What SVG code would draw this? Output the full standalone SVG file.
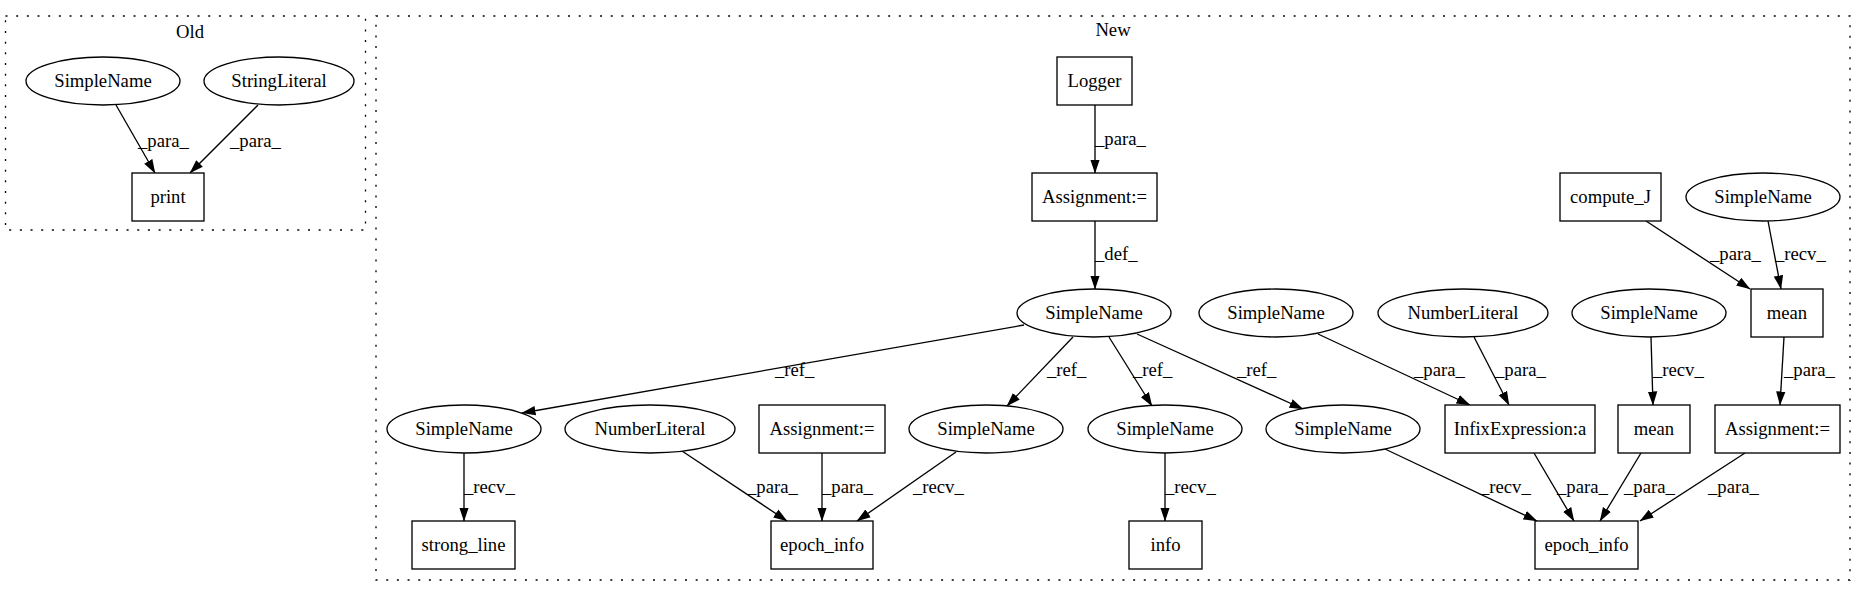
<svg xmlns="http://www.w3.org/2000/svg" width="1867" height="596" viewBox="0 0 1867 596">
<style>
text{font-family:"Liberation Serif","Times New Roman",serif;font-size:18.67px;fill:#000}
.n text,.t{text-anchor:middle}
.n ellipse,.n rect{fill:#fff;stroke:#000;stroke-width:1.33}
.c{fill:none;stroke:#000;stroke-width:1.33;stroke-dasharray:2,8.67}
.e line{stroke:#000;stroke-width:1.33;marker-end:url(#arr)}
</style>
<defs>
<marker id="arr" viewBox="0 0 14 10" refX="13.5" refY="5" markerWidth="14" markerHeight="10" orient="auto" markerUnits="userSpaceOnUse">
<path d="M0,0.3 L14,5 L0,9.7 z" fill="#000"/>
</marker>
</defs>
<rect width="1867" height="596" fill="#fff"/>
<g id="cluster_old">
<rect class="c" x="5.5" y="16" width="360" height="214"/>
<text class="t" x="190" y="38">Old</text>
</g>
<g id="cluster_new">
<rect class="c" x="376" y="16" width="1474" height="564"/>
<text class="t" x="1113" y="36">New</text>
</g>
<g class="e" id="edges">
<line x1="116" y1="105" x2="155" y2="173"/>
<line x1="258" y1="105" x2="190" y2="173"/>
<line x1="1095" y1="105" x2="1095" y2="173"/>
<line x1="1095" y1="221" x2="1095" y2="289"/>
<line x1="1646" y1="221" x2="1750" y2="289"/>
<line x1="1768" y1="221" x2="1781" y2="289"/>
<line x1="1024" y1="325" x2="522" y2="413"/>
<line x1="1073" y1="337" x2="1007" y2="406"/>
<line x1="1109" y1="337" x2="1152" y2="406"/>
<line x1="1137" y1="334" x2="1303" y2="409"/>
<line x1="1318" y1="334" x2="1470" y2="405"/>
<line x1="1474" y1="337" x2="1509" y2="405"/>
<line x1="1651" y1="337" x2="1653" y2="405"/>
<line x1="1784" y1="337" x2="1780" y2="405"/>
<line x1="464" y1="453" x2="464" y2="521"/>
<line x1="682" y1="451" x2="787" y2="521"/>
<line x1="822" y1="453" x2="822" y2="521"/>
<line x1="956" y1="452" x2="857" y2="521"/>
<line x1="1165" y1="453" x2="1165" y2="521"/>
<line x1="1385" y1="449" x2="1537" y2="521"/>
<line x1="1534" y1="453" x2="1574" y2="521"/>
<line x1="1641" y1="453" x2="1600" y2="521"/>
<line x1="1745" y1="453" x2="1640" y2="521"/>
<text x="138" y="147">_para_</text>
<text x="230" y="147">_para_</text>
<text x="1095" y="145">_para_</text>
<text x="1095" y="260">_def_</text>
<text x="1710" y="260">_para_</text>
<text x="1775" y="260">_recv_</text>
<text x="775" y="376">_ref_</text>
<text x="1047" y="376">_ref_</text>
<text x="1133" y="376">_ref_</text>
<text x="1237" y="376">_ref_</text>
<text x="1414" y="376">_para_</text>
<text x="1495" y="376">_para_</text>
<text x="1653" y="376">_recv_</text>
<text x="1784" y="376">_para_</text>
<text x="464" y="493">_recv_</text>
<text x="747" y="493">_para_</text>
<text x="822" y="493">_para_</text>
<text x="913" y="493">_recv_</text>
<text x="1165" y="493">_recv_</text>
<text x="1480" y="493">_recv_</text>
<text x="1557" y="493">_para_</text>
<text x="1624" y="493">_para_</text>
<text x="1708" y="493">_para_</text>
</g>
<g class="n" id="old_simplename"><ellipse cx="103" cy="81" rx="77" ry="24"/><text x="103" y="87">SimpleName</text></g>
<g class="n" id="old_stringliteral"><ellipse cx="279" cy="81" rx="75" ry="24"/><text x="279" y="87">StringLiteral</text></g>
<g class="n" id="old_print"><rect x="132" y="173" width="72" height="48"/><text x="168" y="203">print</text></g>
<g class="n" id="logger"><rect x="1057" y="57" width="75" height="48"/><text x="1094.5" y="87">Logger</text></g>
<g class="n" id="assign1"><rect x="1032" y="173" width="125" height="48"/><text x="1094.5" y="203">Assignment:=</text></g>
<g class="n" id="compute_j"><rect x="1560" y="173" width="101" height="48"/><text x="1610.5" y="203">compute_J</text></g>
<g class="n" id="sn_top"><ellipse cx="1763" cy="197" rx="77" ry="24"/><text x="1763" y="203">SimpleName</text></g>
<g class="n" id="sn_main"><ellipse cx="1094" cy="313" rx="77" ry="24"/><text x="1094" y="319">SimpleName</text></g>
<g class="n" id="sn_r2a"><ellipse cx="1276" cy="313" rx="77" ry="24"/><text x="1276" y="319">SimpleName</text></g>
<g class="n" id="nl_r2"><ellipse cx="1463" cy="313" rx="85" ry="24"/><text x="1463" y="319">NumberLiteral</text></g>
<g class="n" id="sn_r2b"><ellipse cx="1649" cy="313" rx="77" ry="24"/><text x="1649" y="319">SimpleName</text></g>
<g class="n" id="mean1"><rect x="1751" y="289" width="72" height="48"/><text x="1787" y="319">mean</text></g>
<g class="n" id="sn_a"><ellipse cx="464" cy="429" rx="77" ry="24"/><text x="464" y="435">SimpleName</text></g>
<g class="n" id="nl_a"><ellipse cx="650" cy="429" rx="85" ry="24"/><text x="650" y="435">NumberLiteral</text></g>
<g class="n" id="assign2"><rect x="759" y="405" width="126" height="48"/><text x="822" y="435">Assignment:=</text></g>
<g class="n" id="sn_b"><ellipse cx="986" cy="429" rx="77" ry="24"/><text x="986" y="435">SimpleName</text></g>
<g class="n" id="sn_c"><ellipse cx="1165" cy="429" rx="77" ry="24"/><text x="1165" y="435">SimpleName</text></g>
<g class="n" id="sn_d"><ellipse cx="1343" cy="429" rx="77" ry="24"/><text x="1343" y="435">SimpleName</text></g>
<g class="n" id="infix"><rect x="1445" y="405" width="150" height="48"/><text x="1520" y="435">InfixExpression:a</text></g>
<g class="n" id="mean2"><rect x="1618" y="405" width="72" height="48"/><text x="1654" y="435">mean</text></g>
<g class="n" id="assign3"><rect x="1715" y="405" width="125" height="48"/><text x="1777.5" y="435">Assignment:=</text></g>
<g class="n" id="strong_line"><rect x="412" y="521" width="103" height="48"/><text x="463.5" y="551">strong_line</text></g>
<g class="n" id="epoch1"><rect x="771" y="521" width="102" height="48"/><text x="822" y="551">epoch_info</text></g>
<g class="n" id="info"><rect x="1129" y="521" width="73" height="48"/><text x="1165.5" y="551">info</text></g>
<g class="n" id="epoch2"><rect x="1535" y="521" width="103" height="48"/><text x="1586.5" y="551">epoch_info</text></g>
</svg>
